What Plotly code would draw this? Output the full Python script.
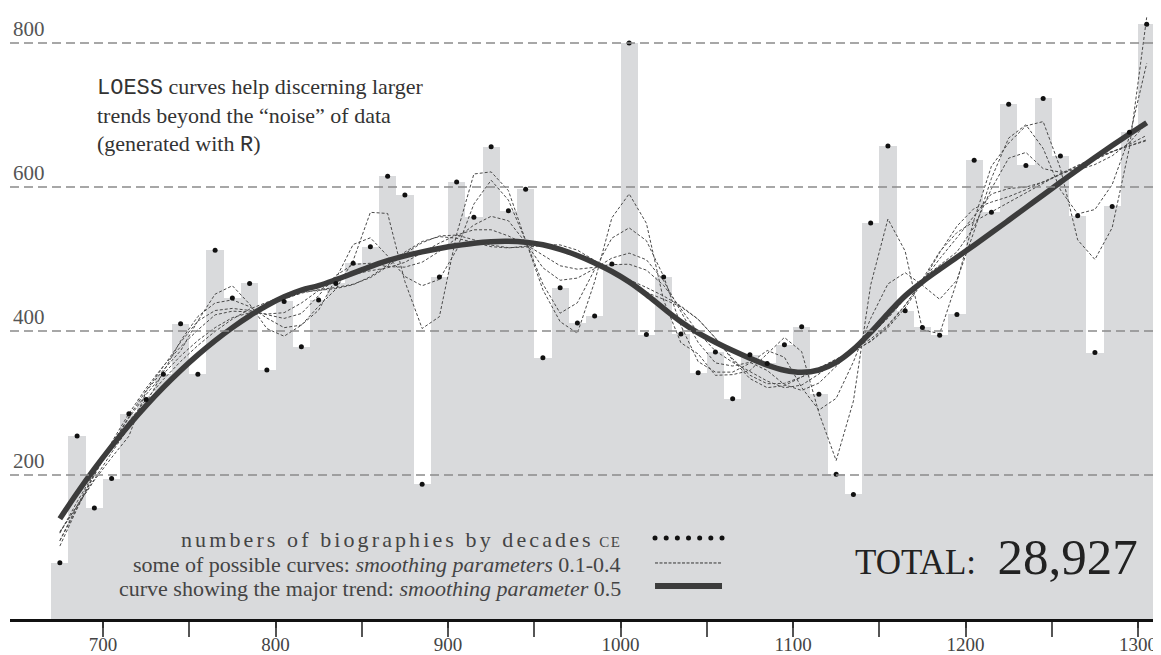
import numpy as np
import plotly.graph_objects as go

# ---------------- data ----------------
decades = [670, 680, 690, 700, 710, 720, 730, 740, 750, 760,
           770, 780, 790, 800, 810, 820, 830, 840, 850, 860,
           870, 880, 890, 900, 910, 920, 930, 940, 950, 960,
           970, 980, 990, 1000, 1010, 1020, 1030, 1040, 1050, 1060,
           1070, 1080, 1090, 1100, 1110, 1120, 1130, 1140, 1150, 1160,
           1170, 1180, 1190, 1200, 1210, 1220, 1230, 1240, 1250, 1260,
           1270, 1280, 1290, 1300]
biographies = [78, 254, 154, 195, 285, 305, 340, 410, 340, 512,
               446, 466, 346, 441, 378, 443, 466, 494, 517, 615,
               589, 187, 475, 607, 558, 656, 567, 597, 363, 460,
               411, 421, 493, 800, 395, 475, 396, 342, 371, 306,
               367, 355, 381, 406, 312, 201, 173, 550, 657, 428,
               405, 394, 423, 637, 565, 715, 630, 723, 643, 560,
               370, 573, 676, 826]
minor_spans = [0.15, 0.2, 0.25, 0.3, 0.35, 0.4]
major_span = 0.5
x_ticks = [700, 800, 900, 1000, 1100, 1200, 1300]
y_ticks = [200, 400, 600, 800]
total_label = "28,927"

# ---------------- LOESS smoother (local quadratic, tricube) ----------------
def loess(x, y, span, degree=2):
    x = np.asarray(x, float)
    y = np.asarray(y, float)
    n = len(x)
    q = max(int(np.floor(n * span)), degree + 1)
    fit = []
    for x0 in x:
        d = np.abs(x - x0)
        h = np.sort(d)[q - 1]
        w = np.clip(1 - (d / h) ** 3, 0, None) ** 3
        X = np.vander(x - x0, degree + 1, increasing=True)
        sw = np.sqrt(w)
        beta, *_ = np.linalg.lstsq(X * sw[:, None], y * sw, rcond=None)
        fit.append(beta[0])
    return np.array(fit)

mid = np.array(decades, float) + 5

SERIF = "Liberation Serif, Times New Roman, serif"
MONO = "Liberation Mono, DejaVu Sans Mono, monospace"

fig = go.Figure()

fig.add_trace(go.Bar(x=decades, y=biographies, width=10, offset=0,
                     marker=dict(color="#d9dadc", line=dict(width=0)),
                     showlegend=False, hoverinfo="skip"))

for s in minor_spans:
    fig.add_trace(go.Scatter(x=mid, y=loess(mid, biographies, s), mode="lines",
                             line=dict(color="#4a4a4a", width=1, dash="3px,2px"),
                             showlegend=False, hoverinfo="skip"))

fig.add_trace(go.Scatter(x=mid, y=loess(mid, biographies, major_span), mode="lines",
                         line=dict(color="#3c3c3c", width=5.5, shape="spline"),
                         showlegend=False, hoverinfo="skip"))

fig.add_trace(go.Scatter(x=mid, y=biographies, mode="markers",
                         marker=dict(color="#111111", size=5),
                         showlegend=False))

# dashed grid lines drawn over the bars
for v in y_ticks:
    fig.add_hline(y=v, line=dict(color="#8a8a8a", width=1.3, dash="9px,5px"), layer="above")

# ---------------- legend (key drawn on a hidden overlay axis) ----------------
kx0, kx1 = 0.5604, 0.6186
key_rows = [0.1326, 0.0917, 0.0540]
text_rows = [0.1309, 0.0900, 0.0507]
fig.add_trace(go.Scatter(x=list(np.linspace(kx0, kx1, 7)), y=[key_rows[0]] * 7,
                         mode="markers", marker=dict(color="#111", size=5),
                         xaxis="x2", yaxis="y2", showlegend=False, hoverinfo="skip"))
fig.add_trace(go.Scatter(x=[kx0, kx1], y=[key_rows[1]] * 2, mode="lines",
                         line=dict(color="#333", width=1, dash="3px,1.5px"),
                         xaxis="x2", yaxis="y2", showlegend=False, hoverinfo="skip"))
fig.add_trace(go.Scatter(x=[kx0, kx1], y=[key_rows[2]] * 2, mode="lines",
                         line=dict(color="#3c3c3c", width=6),
                         xaxis="x2", yaxis="y2", showlegend=False, hoverinfo="skip"))

legend_texts = [
    '<span style="letter-spacing:3.1px">numbers of biographies by decades</span> '
    '<span style="font-size:15px;letter-spacing:1.5px">CE</span>',
    'some of possible curves: <i>smoothing parameters</i> 0.1-0.4',
    'curve showing the major trend: <i>smoothing parameter</i> 0.5',
]
for t, yk in zip(legend_texts, text_rows):
    fig.add_annotation(x=0.5326, y=yk, xref="paper", yref="paper", text=t,
                       showarrow=False, xanchor="right", yanchor="middle",
                       font=dict(family=SERIF, size=22, color="#444"))

fig.add_annotation(
    x=0.0738, y=0.895, xref="paper", yref="paper", xanchor="left", yanchor="top",
    align="left", showarrow=False,
    text=(f'<span style="font-family:{MONO}">LOESS</span> curves help discerning larger<br>'
          'trends beyond the \u201cnoise\u201d of data<br>'
          f'(generated with <span style="font-family:{MONO}">R</span>)'),
    font=dict(family=SERIF, size=22, color="#333"))

fig.add_annotation(
    x=0.9818, y=0.1007, xref="paper", yref="paper", xanchor="right", yanchor="middle",
    showarrow=False,
    text=f'TOTAL: <span style="font-size:51px"> {total_label}</span>',
    font=dict(family=SERIF, size=35, color="#222"))

# the page body has an 8px margin: the figure is sized so it fills the window
fig.update_layout(
    width=1153, height=647,
    margin=dict(l=2, r=0, t=0, b=36),
    paper_bgcolor="white", plot_bgcolor="white",
    bargap=0,
    xaxis=dict(range=[646.1, 1313.3], tickvals=x_ticks, ticktext=[str(v) for v in x_ticks],
               automargin=False,
               showgrid=False, zeroline=False, showline=True, linecolor="#111", linewidth=2.5,
               ticks="outside", ticklen=6, tickwidth=2, tickcolor="#333",
               minor=dict(dtick=50, tick0=650, ticks="outside", ticklen=15, tickwidth=2,
                          tickcolor="#555", showgrid=False),
               tickfont=dict(family=SERIF, size=19, color="#444")),
    yaxis=dict(range=[0, 848.6], tickvals=y_ticks, ticktext=[str(v) for v in y_ticks],
               automargin=False,
               showgrid=False, zeroline=False, showline=False,
               ticks="", ticklabelposition="inside top",
               tickfont=dict(family=SERIF, size=21, color="#555")),
    xaxis2=dict(range=[0, 1], overlaying="x", visible=False),
    yaxis2=dict(range=[0, 1], overlaying="y", visible=False),
)

fig.write_html("out.html")
